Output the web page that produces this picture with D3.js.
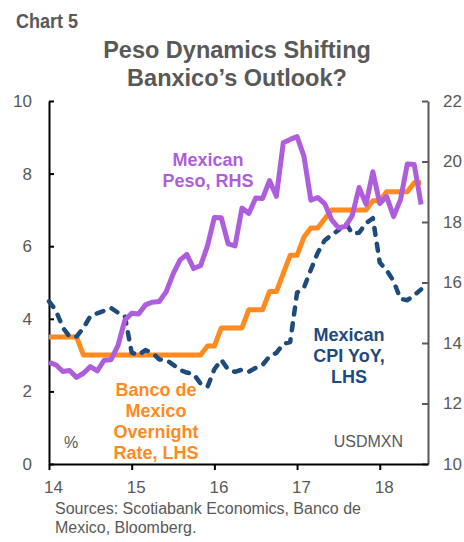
<!DOCTYPE html>
<html>
<head>
<meta charset="utf-8">
<script src="https://cdn.jsdelivr.net/npm/d3@7"></script>
<style>
  body { margin: 0; background: #fff; }
  svg { display: block; font-family: 'Liberation Sans', Arial, sans-serif; }
</style>
</head>
<body>
<div id="chart-container"></div>
<script>
// Monthly data, Jan 2014 .. Jul 2018
const monthIndex = d3.range(55);
const policyRate = [
  3.5, 3.5, 3.5, 3.5, 3.5, 3.0, 3.0, 3.0, 3.0, 3.0, 3.0, 3.0,
  3.0, 3.0, 3.0, 3.0, 3.0, 3.0, 3.0, 3.0, 3.0, 3.0, 3.0, 3.25,
  3.25, 3.75, 3.75, 3.75, 3.75, 4.25, 4.25, 4.25, 4.75, 4.75, 5.25, 5.75,
  5.75, 6.25, 6.5, 6.5, 6.75, 7.0, 7.0, 7.0, 7.0, 7.0, 7.0, 7.25,
  7.25, 7.5, 7.5, 7.5, 7.5, 7.75, 7.75
];
const cpiYoY = [
  4.48, 4.23, 3.76, 3.50, 3.51, 3.75, 4.07, 4.15, 4.22, 4.30, 4.17, 4.08,
  3.07, 3.00, 3.14, 3.06, 2.88, 2.87, 2.74, 2.59, 2.52, 2.48, 2.21, 2.13,
  2.61, 2.87, 2.60, 2.54, 2.60, 2.54, 2.65, 2.73, 2.97, 3.06, 3.31, 3.36,
  4.72, 4.86, 5.35, 5.82, 6.16, 6.31, 6.44, 6.66, 6.35, 6.37, 6.63, 6.77,
  5.55, 5.34, 5.04, 4.55, 4.51, 4.65, 4.81
];
const usdMxn = [
  13.36, 13.28, 13.06, 13.09, 12.86, 13.00, 13.22, 13.08, 13.43, 13.45, 13.91, 14.75,
  14.98, 14.96, 15.26, 15.35, 15.37, 15.69, 16.28, 16.74, 16.93, 16.46, 16.56, 17.21,
  18.15, 18.14, 17.28, 17.21, 18.46, 18.28, 18.79, 18.78, 19.37, 18.85, 20.62, 20.73,
  20.82, 20.17, 18.72, 18.81, 18.61, 18.08, 17.81, 17.85, 18.21, 19.14, 18.59, 19.66,
  18.61, 18.84, 18.18, 18.73, 19.92, 19.90, 18.58
];
const yearTicks = [0, 12, 24, 36, 48];
const yearLabels = ['14', '15', '16', '17', '18'];
const leftTicks = [0, 2, 4, 6, 8, 10];
const rightTicks = [10, 12, 14, 16, 18, 20, 22];

const width = 464;
const height = 542;
const plot = { left: 49, right: 428, top: 101, bottom: 464 };
const grey = '#595959';

const svg = d3.select('#chart-container')
  .append('svg')
  .attr('width', width)
  .attr('height', height);

svg.append('rect').attr('width', width).attr('height', height).attr('fill', '#fff');

// Titles
svg.append('text')
  .attr('x', 16).attr('y', 28)
  .attr('fill', grey)
  .attr('textLength', 62)
  .attr('lengthAdjust', 'spacingAndGlyphs')
  .style('font-family', "'Liberation Sans Narrow', 'Arial Narrow', 'Liberation Sans', sans-serif")
  .style('font-weight', 'bold')
  .style('font-size', '21px')
  .text('Chart 5');

const title = svg.append('text')
  .attr('text-anchor', 'middle')
  .attr('fill', grey)
  .style('font-weight', 'bold')
  .style('font-size', '23.5px');
title.append('tspan').attr('x', 237).attr('y', 58).text('Peso Dynamics Shifting');
title.append('tspan').attr('x', 237).attr('y', 86).text('Banxico\u2019s Outlook?');

// Scales
const x = d3.scaleLinear().domain([0, 55]).range([plot.left, plot.right]);
const yLeft = d3.scaleLinear().domain([0, 10]).range([plot.bottom, plot.top]);
const yRight = d3.scaleLinear().domain([10, 22]).range([plot.bottom, plot.top]);

// Axes
const styleAxis = (g, color) => {
  g.select('.domain').attr('stroke', color).attr('stroke-width', 2);
  g.selectAll('.tick line').attr('stroke', color).attr('stroke-width', 2);
  g.selectAll('.tick text').attr('fill', grey).style('font-size', '17px')
    .style('font-family', "'Liberation Sans', Arial, sans-serif");
};

svg.append('g')
  .attr('transform', `translate(${plot.left},0)`)
  .call(d3.axisLeft(yLeft).tickValues(leftTicks).tickSizeInner(-5).tickSizeOuter(0).tickPadding(17))
  .call((g) => styleAxis(g, '#000'));

svg.append('g')
  .attr('transform', `translate(${plot.right},0)`)
  .call(d3.axisRight(yRight).tickValues(rightTicks).tickSizeInner(-6).tickSizeOuter(0).tickPadding(15))
  .call((g) => styleAxis(g, grey));

svg.append('g')
  .attr('transform', `translate(0,${plot.bottom})`)
  .call(d3.axisBottom(x).tickValues(yearTicks).tickFormat((d, i) => yearLabels[i])
    .tickSizeInner(6).tickSizeOuter(0).tickPadding(11))
  .call((g) => styleAxis(g, '#000'))
  .call((g) => g.selectAll('.tick text').attr('dx', 4));

// Lines
const lineLeft = (vals) => d3.line().x((d, i) => x(monthIndex[i])).y((d) => yLeft(d))(vals);
const lineRight = (vals) => d3.line().x((d, i) => x(monthIndex[i])).y((d) => yRight(d))(vals);

svg.append('path')
  .attr('d', lineLeft(policyRate))
  .attr('fill', 'none')
  .attr('stroke', '#FF8A1F')
  .attr('stroke-width', 5)
  .attr('stroke-linejoin', 'round');

svg.append('path')
  .attr('d', lineLeft(cpiYoY))
  .attr('fill', 'none')
  .attr('stroke', '#1F4A7C')
  .attr('stroke-width', 4.5)
  .attr('stroke-dasharray', '7,9')
  .attr('stroke-linecap', 'round')
  .attr('stroke-linejoin', 'round');

svg.append('path')
  .attr('d', lineRight(usdMxn))
  .attr('fill', 'none')
  .attr('stroke', '#AE5EDC')
  .attr('stroke-width', 5)
  .attr('stroke-linejoin', 'round');

// Annotations
const note = (lines, cx, y0, step, color, weight, size, anchor) => {
  const t = svg.append('text')
    .attr('text-anchor', anchor || 'middle')
    .attr('fill', color)
    .style('font-weight', weight)
    .style('font-size', size);
  lines.forEach((s, i) => t.append('tspan').attr('x', cx).attr('y', y0 + i * step).text(s));
};

note(['Mexican', 'Peso, RHS'], 208, 166, 21, '#AE5EDC', 'bold', '18px');
note(['Banco de', 'Mexico', 'Overnight', 'Rate, LHS'], 156, 396, 21, '#FF8A1F', 'bold', '18px');
note(['Mexican', 'CPI YoY,', 'LHS'], 349, 341, 21, '#1F4A7C', 'bold', '18px');
note(['%'], 64, 448, 0, grey, 'normal', '16px', 'start');
note(['USDMXN'], 403, 447, 0, grey, 'normal', '16px', 'end');
note(['Sources: Scotiabank Economics, Banco de', 'Mexico, Bloomberg.'], 55, 514, 19, grey, 'normal', '16px', 'start');
</script>
</body>
</html>
